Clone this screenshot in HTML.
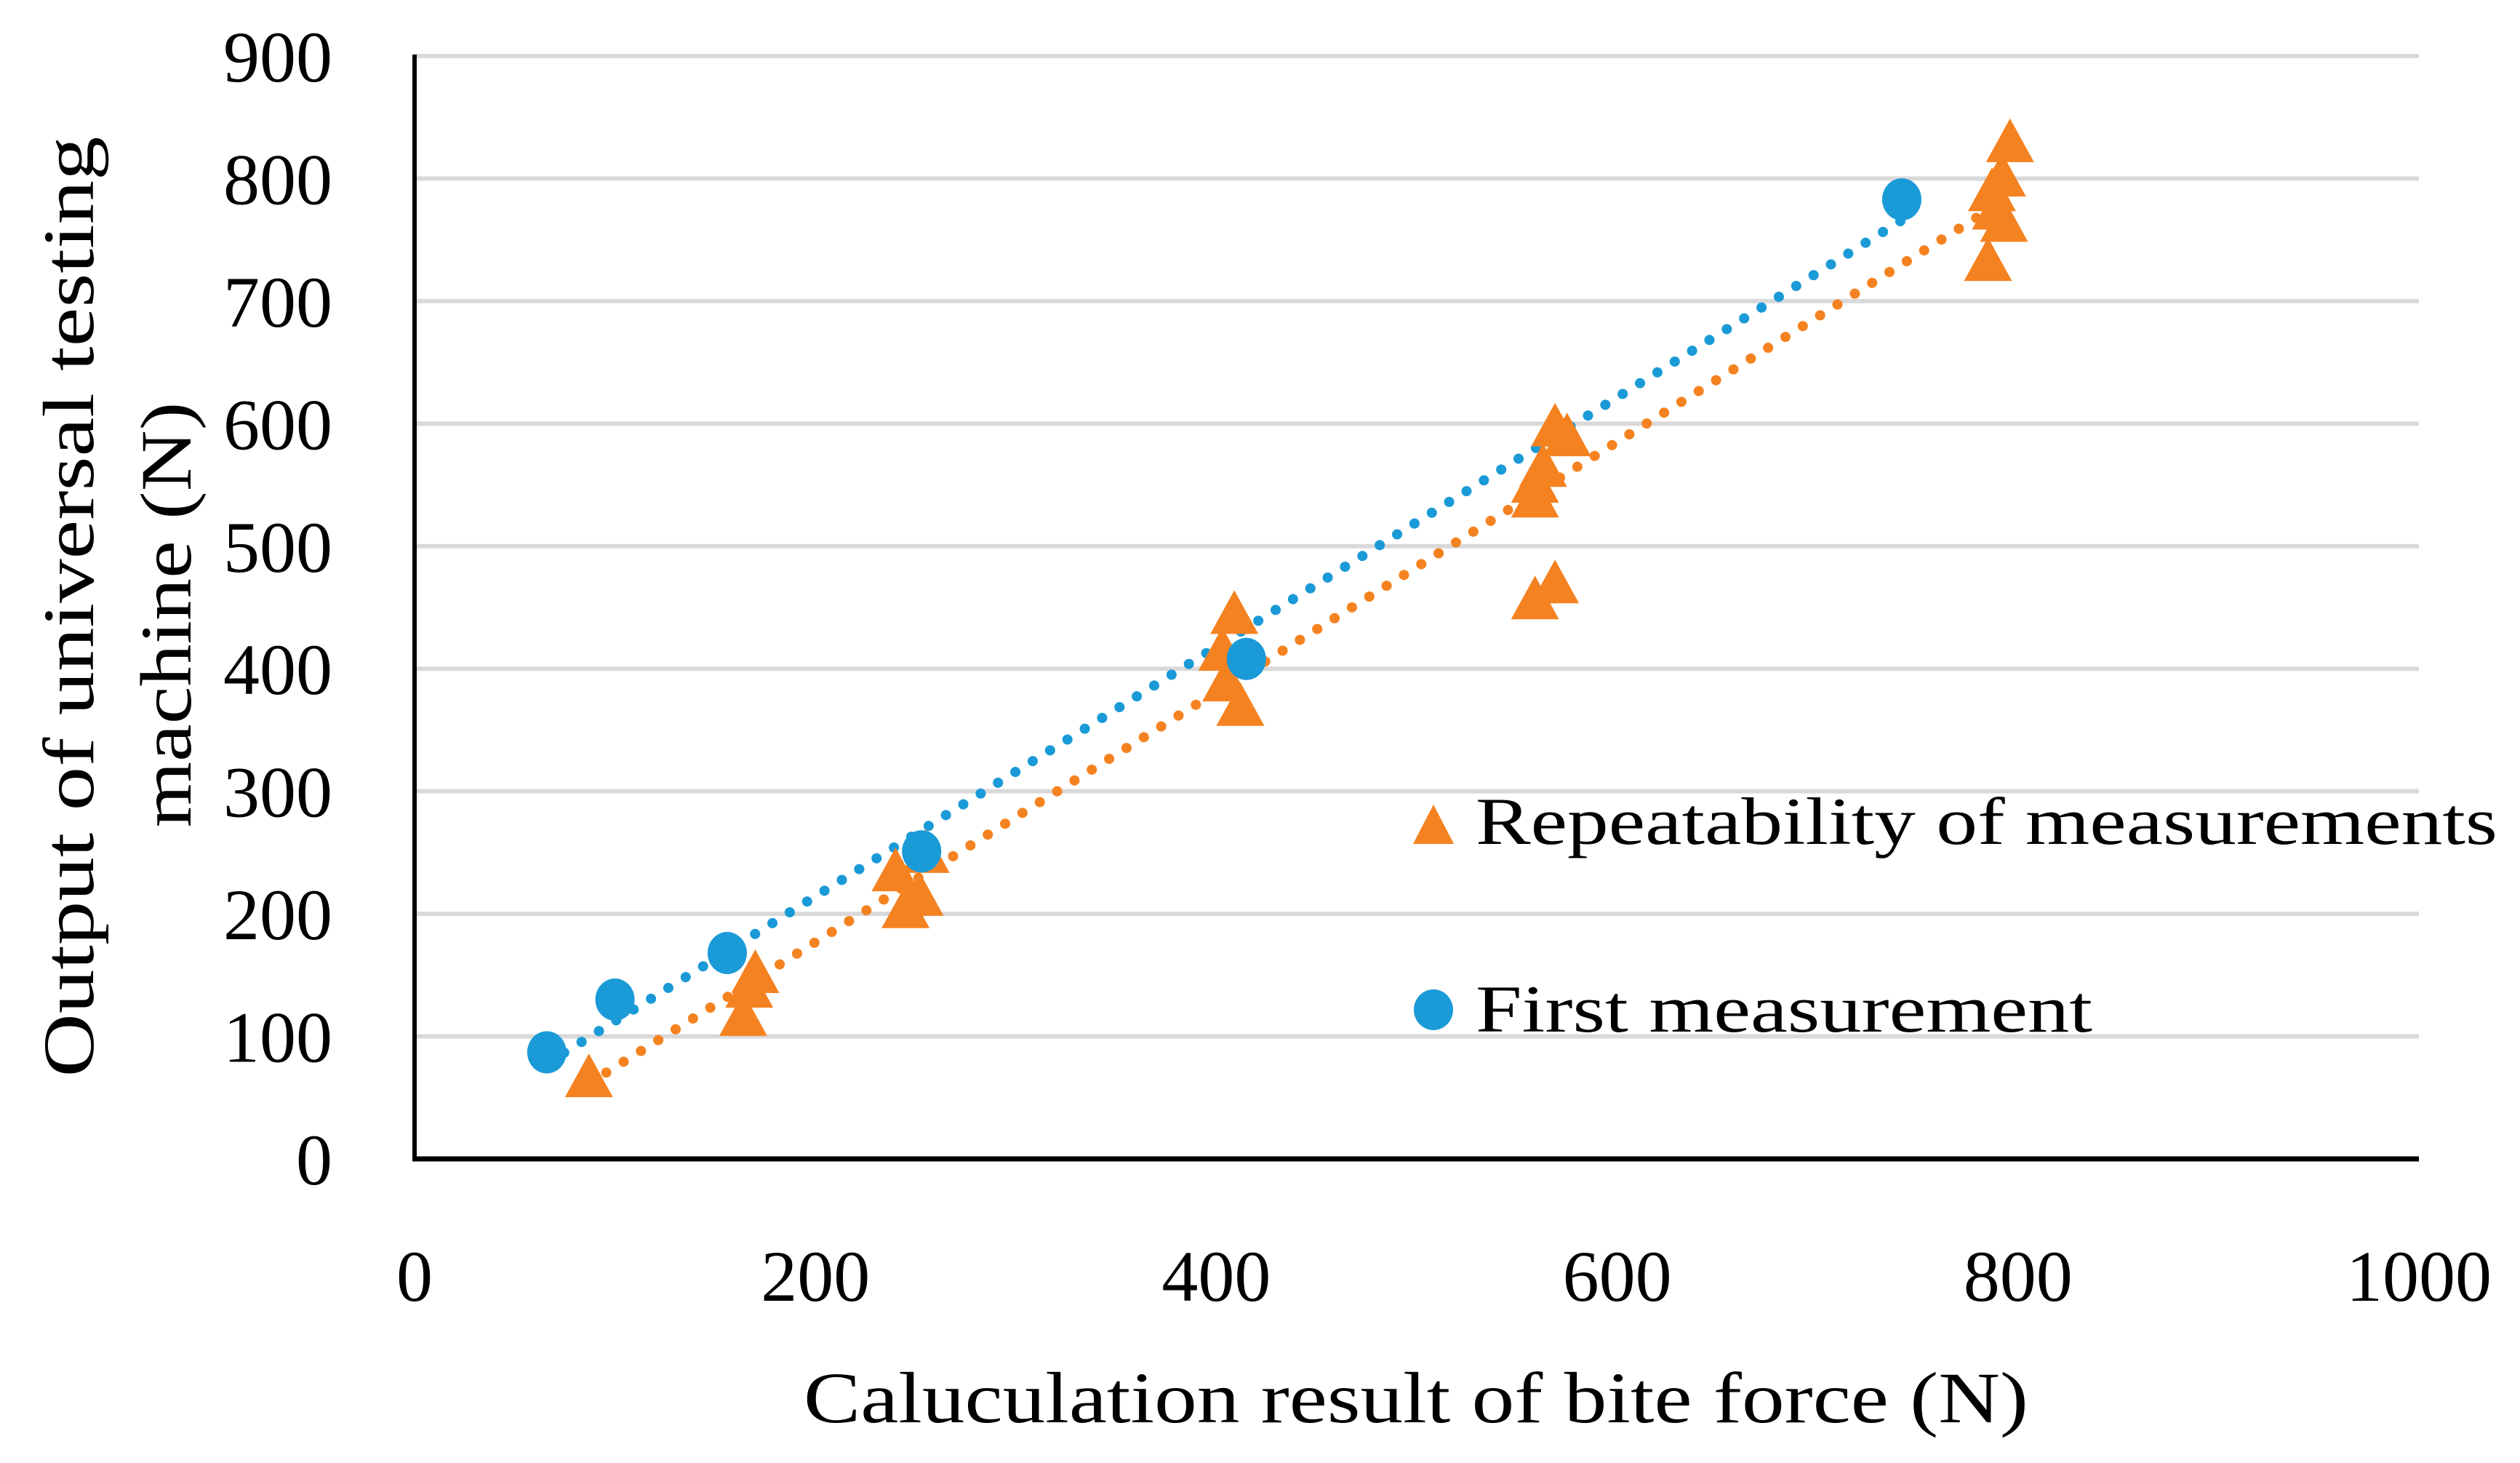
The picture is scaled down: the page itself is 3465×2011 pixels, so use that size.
<!DOCTYPE html>
<html><head><meta charset="utf-8"><style>
html,body{margin:0;padding:0;background:#fff;}
svg{display:block;}
text{font-family:"Liberation Serif",serif;fill:#000;}
</style></head><body>
<svg id="chart" width="3465" height="2011" viewBox="0 0 3465 2011" xmlns="http://www.w3.org/2000/svg">
<g id="grid"></g>
<g id="trend"></g>
<g id="marks"></g>
<g id="axes"></g>
<g id="legend">
  <polygon points="1971,1106 1999,1160 1943,1160" fill="#F58220"/>
  <text x="2029" y="1160" font-size="92" textLength="1405" lengthAdjust="spacingAndGlyphs">Repeatability of measurements</text>
  <ellipse cx="1971" cy="1388" rx="27" ry="28" fill="#1A9AD7"/>
  <text x="2029" y="1418" font-size="92" textLength="848" lengthAdjust="spacingAndGlyphs">First measurement</text>
</g>
<text x="1947" y="1955" font-size="100" text-anchor="middle" textLength="1684" lengthAdjust="spacingAndGlyphs">Caluculation result of bite force (N)</text>
<text transform="translate(128,834) rotate(-90)" font-size="100" text-anchor="middle" textLength="1293" lengthAdjust="spacingAndGlyphs">Output of universal testing</text>
<text transform="translate(262,845) rotate(-90)" font-size="100" text-anchor="middle" textLength="585" lengthAdjust="spacingAndGlyphs">machine (N)</text>
</svg>
<script>
const xTicks = [0, 200, 400, 600, 800, 1000];
const yTicks = [0, 100, 200, 300, 400, 500, 600, 700, 800, 900];
const firstX = [66, 100, 156, 253, 415, 742];
const firstY = [87, 130, 168, 251, 408, 783];
const repX = [87, 164, 167, 170, 240, 245, 252, 255, 403, 405, 409, 412, 559, 559, 563, 569, 575, 559, 569, 785, 787, 789, 792, 793, 796];
const repY = [67, 117, 140, 152, 235, 205, 215, 250, 415, 390, 445, 370, 540, 552, 565, 598, 590, 457, 470, 733, 790, 775, 802, 765, 830];

const NS = "http://www.w3.org/2000/svg";
const X0 = 570, X1 = 3326, Y0 = 1593, Y1 = 77;
const sx = v => X0 + (v - 0) / 1000 * (X1 - X0);
const sy = v => Y0 - (v - 0) / 900 * (Y0 - Y1);
function mk(tag, attrs, parent) {
  const e = document.createElementNS(NS, tag);
  for (const k in attrs) e.setAttribute(k, attrs[k]);
  parent.appendChild(e);
  return e;
}
const grid = document.getElementById('grid');
const axes = document.getElementById('axes');
const marks = document.getElementById('marks');
const trend = document.getElementById('trend');

yTicks.forEach(t => {
  if (t > 0) {
    const l = mk('line', {x1: X0, x2: X1, y1: sy(t), y2: sy(t), stroke: '#d9d9d9', 'stroke-width': 6}, grid);
    
    
  }
  const tx = mk('text', {x: 457, y: sy(t) + 35, 'font-size': 100, 'text-anchor': 'end'}, axes);
  tx.textContent = t;
  
  
});
xTicks.forEach(t => {
  const tx = mk('text', {x: sx(t), y: 1788, 'font-size': 100, 'text-anchor': 'middle'}, axes);
  tx.textContent = t;
  
  
});
const ya = mk('line', {x1: X0, x2: X0, y1: Y1 - 2, y2: Y0 + 3, stroke: '#000', 'stroke-width': 6}, axes);


const xa = mk('line', {x1: X0 - 3, x2: X1, y1: Y0, y2: Y0, stroke: '#000', 'stroke-width': 7}, axes);



function fit(xs, ys) {
  const n = xs.length;
  let mx = 0, my = 0;
  for (let i = 0; i < n; i++) { mx += xs[i]; my += ys[i]; }
  mx /= n; my /= n;
  let sxy = 0, sxx = 0;
  for (let i = 0; i < n; i++) { sxy += (xs[i] - mx) * (ys[i] - my); sxx += (xs[i] - mx) ** 2; }
  const b = sxy / sxx; return [my - b * mx, b];
}
function trendLine(xs, ys, color, name) {
  const [a, b] = fit(xs, ys);
  const lo = Math.min(...xs), hi = Math.max(...xs);
  const l = mk('line', {x1: sx(lo), y1: sy(a + b * lo), x2: sx(hi), y2: sy(a + b * hi), stroke: color, 'stroke-width': 14, 'stroke-linecap': 'round', 'stroke-dasharray': '0.1 28'}, trend);
  
  
}
trendLine(repX, repY, '#F58220', 'trendline-repeatability');
trendLine(firstX, firstY, '#1A9AD7', 'trendline-first');

repX.forEach((x, i) => {
  const cx = sx(x), cy = sy(repY[i]);
  const p = mk('polygon', {points: `${cx},${cy - 32} ${cx + 33},${cy + 28} ${cx - 33},${cy + 28}`, fill: '#F58220'}, marks);
  
  
});
firstX.forEach((x, i) => {
  const c = mk('ellipse', {cx: sx(x), cy: sy(firstY[i]), rx: 27, ry: 29, fill: '#1A9AD7'}, marks);
  
  
});
</script>
</body></html>
